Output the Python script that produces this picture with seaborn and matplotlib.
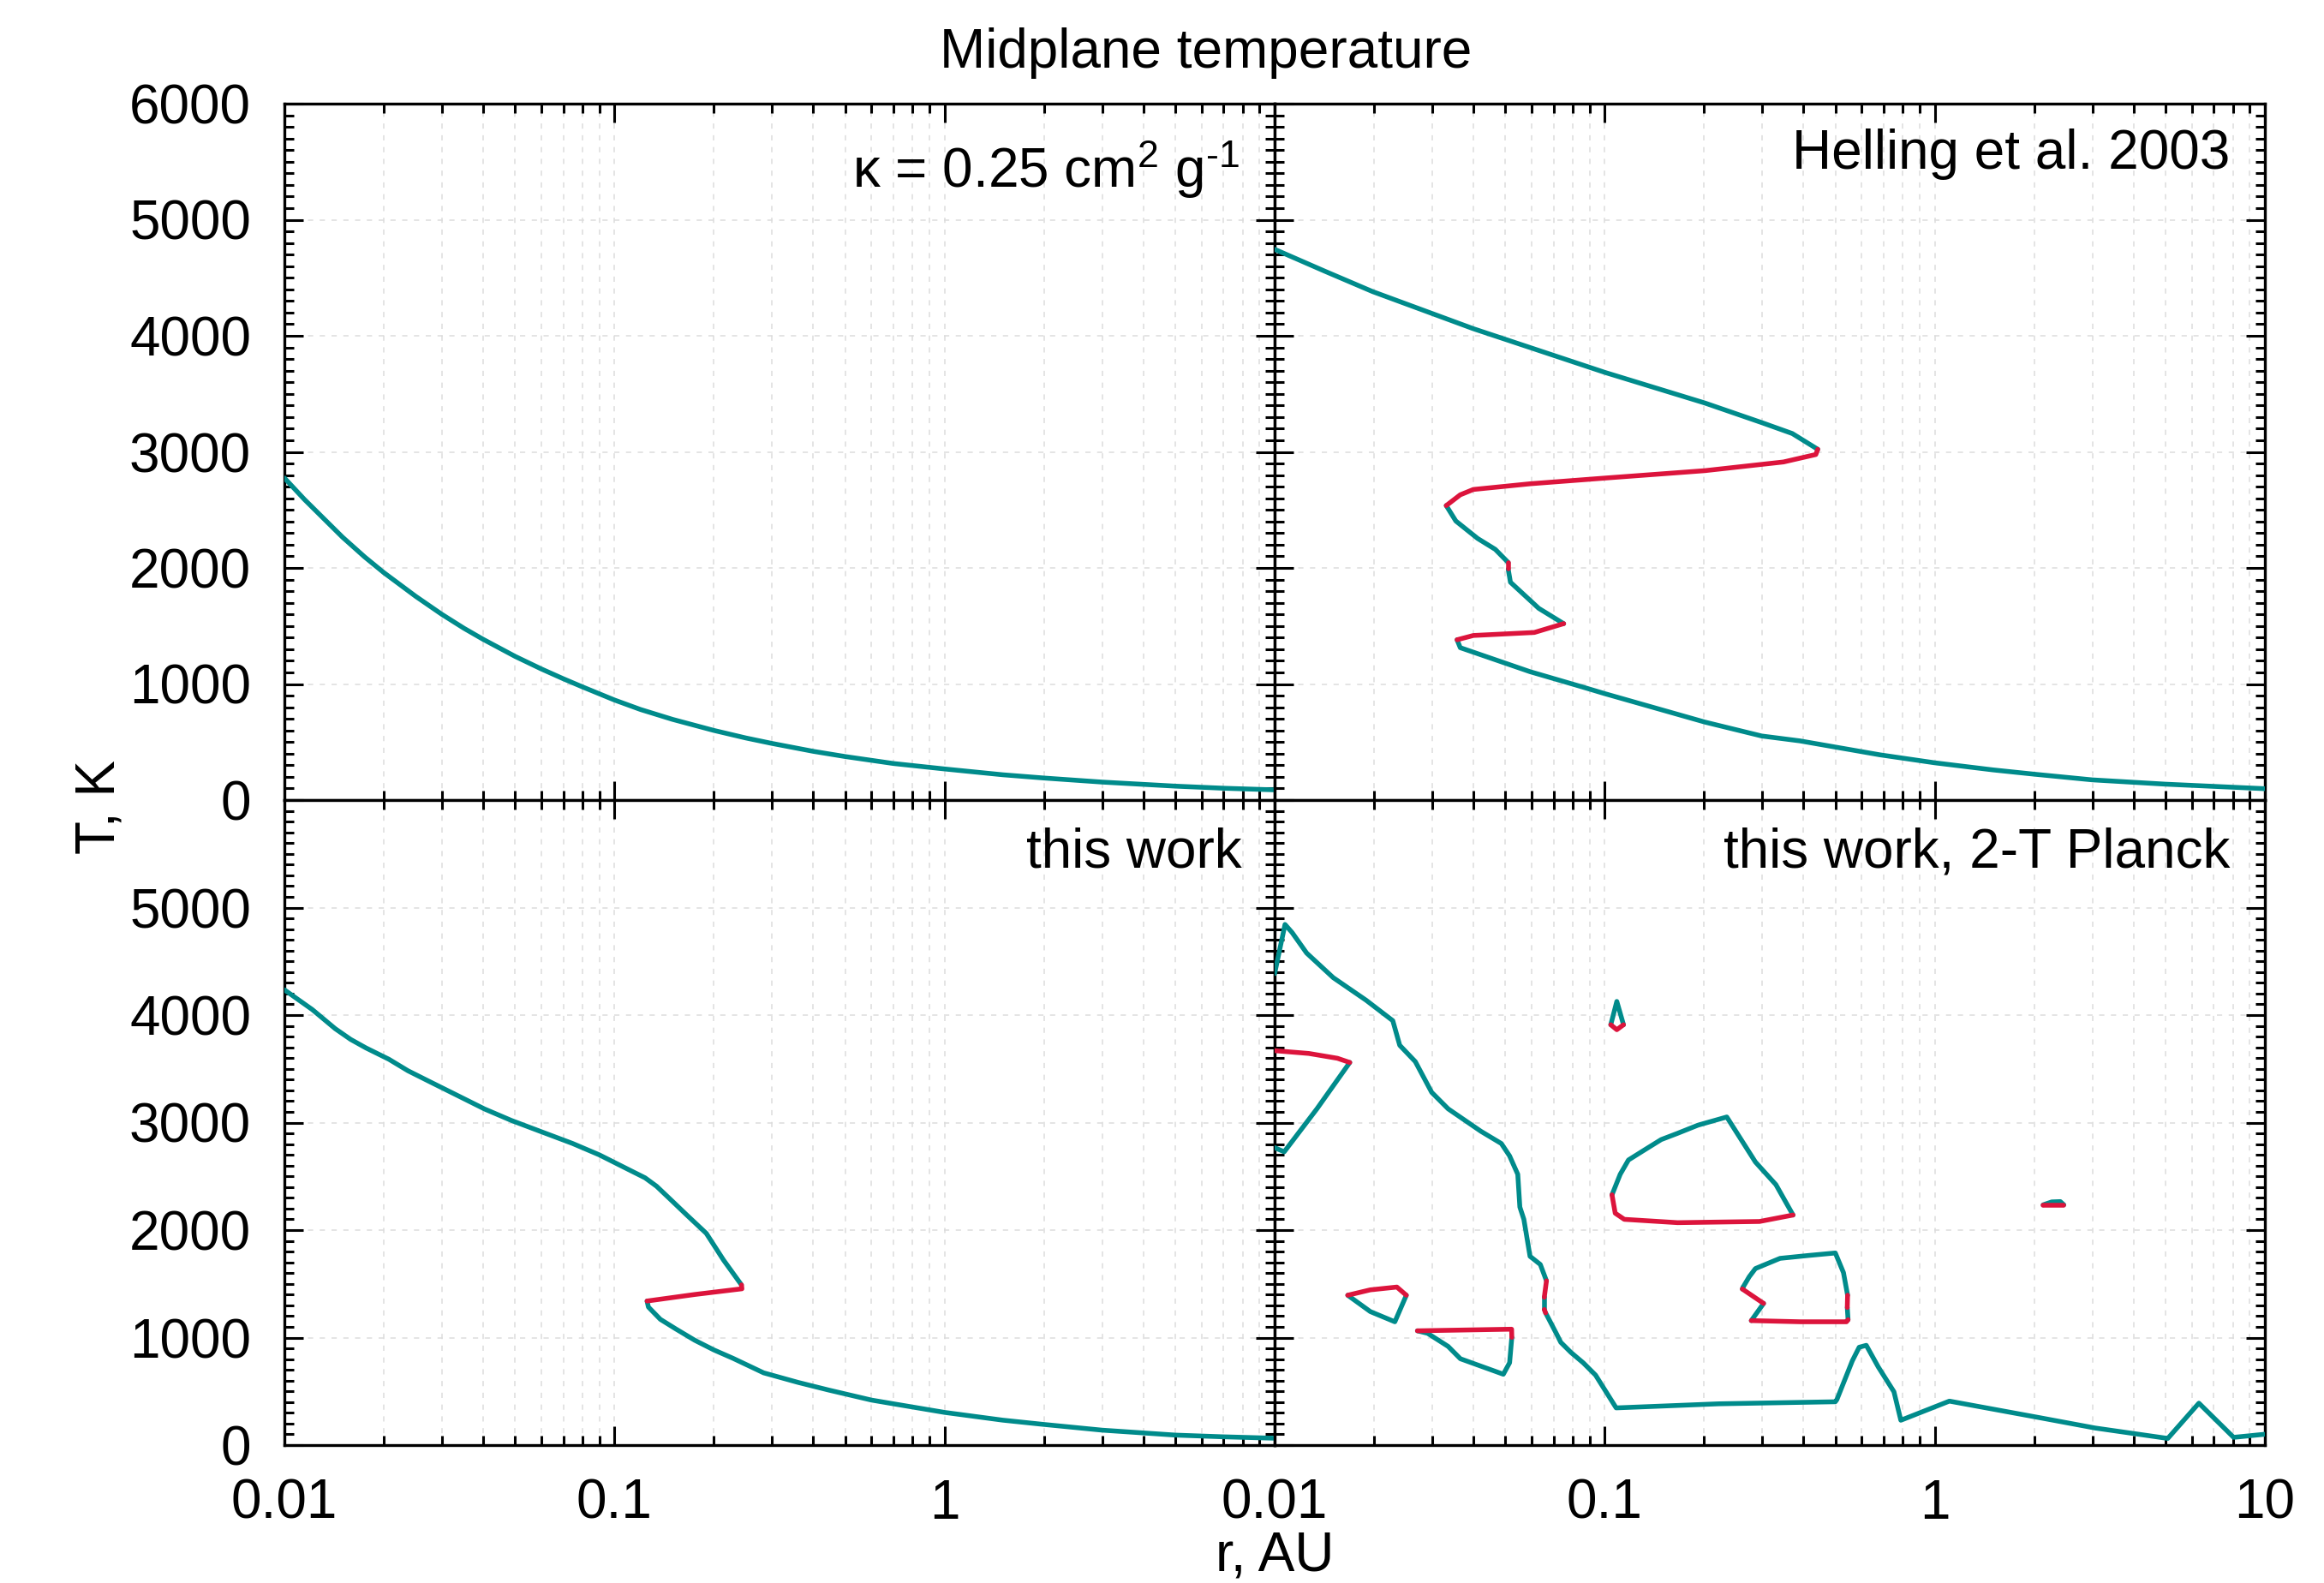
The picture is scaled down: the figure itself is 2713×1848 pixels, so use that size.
import pandas as pd
import matplotlib
matplotlib.use("Agg")
import matplotlib.pyplot as plt
from matplotlib.ticker import FixedLocator, LogLocator, NullFormatter, MultipleLocator
import seaborn as sns

# ---- data (r in AU, T in K) ----
# flags: one letter per segment, "s" = teal branch, "u" = red branch

# top left: kappa = 0.25
tl_r = [0.01, 0.0115, 0.013, 0.015, 0.0175, 0.02, 0.025, 0.03, 0.035, 0.04, 0.05, 0.06, 0.07,
        0.08, 0.1, 0.12, 0.15, 0.2, 0.25, 0.3, 0.4, 0.5, 0.7, 1, 1.5, 2, 3, 5, 7, 10]
tl_T = [2775, 2590, 2440, 2265, 2095, 1960, 1755, 1600, 1480, 1385, 1238, 1130, 1045,
        975, 862, 780, 695, 600, 535, 488, 420, 375, 315, 268, 218, 190, 155, 120, 102, 88]
tl_flags = "s" * 29

# top right: Helling et al. 2003
tr_r = [0.01, 0.01415, 0.0198, 0.04, 0.1, 0.201, 0.299, 0.37, 0.442, 0.436, 0.348, 0.201, 0.1,
        0.0594, 0.04, 0.0365, 0.0331, 0.0354, 0.0412, 0.0466, 0.051, 0.051, 0.0518, 0.0631,
        0.0751, 0.0612, 0.04, 0.0357, 0.0365, 0.0594, 0.0857, 0.1, 0.201, 0.299, 0.39,
        0.681, 1.0, 1.5, 2.0, 3.0, 5.0, 7.0, 10.0]
tr_T = [4745, 4558, 4381, 4061, 3685, 3421, 3252, 3158, 3022, 2977, 2913, 2838, 2774,
        2725, 2676, 2630, 2537, 2404, 2254, 2160, 2047, 1990, 1877, 1652,
        1520, 1444, 1418, 1381, 1313, 1106, 974, 917, 672, 552, 510,
        390, 321, 260, 223, 174, 137, 118, 98]
tr_flags = "s" * 8 + "u" * 8 + "s" * 4 + "u" + "s" * 3 + "u" * 3 + "s" * 15

# bottom left: this work
bl_r = [0.01, 0.01215, 0.01426, 0.01587, 0.01765, 0.02073, 0.02368, 0.02779, 0.0335, 0.04036,
        0.0487, 0.06025, 0.0746, 0.08992, 0.1113, 0.1238, 0.1341, 0.1492, 0.166, 0.1897, 0.214,
        0.2425, 0.2433, 0.1751, 0.1255, 0.1267, 0.1377, 0.1533, 0.1751, 0.2001, 0.2287,
        0.2831, 0.36, 0.4455, 0.6, 0.7, 1.0, 1.5, 2.0, 3.0, 5.0, 7.0, 10.0]
bl_T = [4235, 4051, 3873, 3774, 3695, 3589, 3482, 3375, 3251, 3127,
        3020, 2913, 2806, 2700, 2557, 2486, 2408, 2273, 2137, 1970, 1721,
        1490, 1454, 1401, 1340, 1284, 1170, 1081, 975, 885, 807,
        672, 583, 512, 419, 384, 304, 232, 192, 139, 93, 77, 64]
bl_flags = "s" * 21 + "u" * 3 + "s" * 18

# bottom right: this work, 2-T Planck (several separate contours)
br_main_r = [0.01, 0.01075, 0.0113, 0.0125, 0.01505, 0.01893, 0.0228, 0.02393, 0.02668, 0.02991,
             0.03354, 0.04216, 0.04862, 0.05149, 0.05452, 0.05532, 0.05689, 0.05939, 0.06381,
             0.0666, 0.0656, 0.0656, 0.0662, 0.07152, 0.07359, 0.07907, 0.0861, 0.0938, 0.1083,
             0.2212, 0.4996, 0.505, 0.5625, 0.59, 0.62, 0.674, 0.752, 0.789, 1.107, 2.077, 3.057,
             5.08, 6.31, 8.04, 10.0]
br_main_T = [4386, 4843, 4767, 4577, 4348, 4138, 3948, 3719, 3567, 3281,
             3128, 2919, 2805, 2690, 2519, 2214, 2100, 1756, 1680,
             1528, 1375, 1261, 1230, 1032, 956, 861, 765, 651, 346,
             384, 403, 423, 784, 910, 928, 727, 496, 231, 409, 255, 159,
             62, 390, 72, 101]
br_main_flags = "s" * 19 + "u" + "s" + "u" + "s" * 22

br_left_r = [0.01, 0.01269, 0.0155, 0.01689, 0.01343, 0.01069, 0.01]
br_left_T = [3669, 3643, 3598, 3559, 3128, 2728, 2767]
br_left_flags = "uuusss"

br_drop_r = [0.1043, 0.1088, 0.114, 0.1088, 0.1043]
br_drop_T = [3910, 4127, 3910, 3864, 3910]
br_drop_flags = "ssuu"

br_big_r = [0.1052, 0.1114, 0.118, 0.1322, 0.1483, 0.1662, 0.1917, 0.2343, 0.2861, 0.33, 0.372,
            0.2944, 0.1662, 0.1146, 0.1076, 0.1052]
br_big_T = [2328, 2519, 2652, 2747, 2842, 2900, 2976, 3052, 2633, 2423, 2140,
            2080, 2069, 2100, 2157, 2328]
br_big_flags = "s" * 10 + "u" * 5

br_loop_r = [0.2626, 0.274, 0.2861, 0.3397, 0.415, 0.4996, 0.5288, 0.5442, 0.543, 0.546, 0.54,
             0.3918, 0.278, 0.3029, 0.2611, 0.2626]
br_loop_T = [1470, 1566, 1642, 1737, 1764, 1787, 1604, 1394, 1280, 1166, 1147,
             1147, 1158, 1318, 1452, 1470]
br_loop_flags = "sssssss" + "u" + "s" + "uuu" + "s" + "u" + "s"

br_tri_r = [0.01665, 0.01949, 0.02346, 0.02506, 0.02313, 0.01949, 0.01665]
br_tri_T = [1394, 1444, 1470, 1394, 1147, 1242, 1394]
br_tri_flags = "uuusss"

br_wedge_r = [0.02707, 0.05223, 0.0523, 0.0515, 0.0493, 0.03654, 0.03354, 0.02906, 0.02707]
br_wedge_T = [1063, 1078, 1002, 766, 659, 803, 918, 1040, 1063]
br_wedge_flags = "uu" + "s" * 6

br_blip_r = [2.13, 2.46, 2.40, 2.26, 2.13]
br_blip_T = [2235, 2235, 2265, 2262, 2235]
br_blip_flags = "usss"

panel_labels = [r"κ = 0.25 cm$^{2}$ g$^{\text{-1}}$", "Helling et al. 2003", "this work",
                "this work, 2-T Planck"]
x_ticks = [0.01, 0.1, 1, 10]
x_ticklabels = ["0.01", "0.1", "1", "10"]
y_ticks = [0, 1000, 2000, 3000, 4000, 5000, 6000]

TEAL = "#008b8b"
RED = "#dc143c"


def branch_frame(r, T, flags, name):
    # split a contour into runs of equal branch type, sharing the joint points
    rows = []
    seg = 0
    start = 0
    for i in range(1, len(flags) + 1):
        if i == len(flags) or flags[i] != flags[start]:
            for j in range(start, i + 1):
                rows.append((r[j], T[j], f"{name}_{seg}", flags[start]))
            seg += 1
            start = i
    return pd.DataFrame(rows, columns=["r", "T", "seg", "branch"])


sns.set_theme(style="white")
plt.rcParams["font.family"] = ["Liberation Sans", "DejaVu Sans"]
plt.rcParams["mathtext.fontset"] = "custom"
plt.rcParams["mathtext.rm"] = "Liberation Sans"
plt.rcParams["mathtext.it"] = "Liberation Sans"
plt.rcParams["mathtext.default"] = "rm"
plt.rcParams["text.color"] = "black"
plt.rcParams["xtick.color"] = "black"
plt.rcParams["ytick.color"] = "black"
plt.rcParams["xtick.labelcolor"] = "black"
plt.rcParams["ytick.labelcolor"] = "black"
FS = 46

fig = plt.figure(figsize=(27.13, 18.48), dpi=100)

W, H = 2713, 1848
xl, xm, xr = 332, 1488, 2644
yt, ym, yb = 121, 934, 1687

boxes = [
    (xl, ym, xm, yt),
    (xm, ym, xr, yt),
    (xl, yb, xm, ym),
    (xm, yb, xr, ym),
]
axes = []
for (x0, y0, x1, y1) in boxes:
    ax = fig.add_axes([x0 / W, 1 - y0 / H, (x1 - x0) / W, (y0 - y1) / H])
    axes.append(ax)

panels = [
    [branch_frame(tl_r, tl_T, tl_flags, "tl")],
    [branch_frame(tr_r, tr_T, tr_flags, "tr")],
    [branch_frame(bl_r, bl_T, bl_flags, "bl")],
    [branch_frame(br_main_r, br_main_T, br_main_flags, "main"),
     branch_frame(br_left_r, br_left_T, br_left_flags, "left"),
     branch_frame(br_drop_r, br_drop_T, br_drop_flags, "drop"),
     branch_frame(br_big_r, br_big_T, br_big_flags, "big"),
     branch_frame(br_loop_r, br_loop_T, br_loop_flags, "loop"),
     branch_frame(br_tri_r, br_tri_T, br_tri_flags, "tri"),
     branch_frame(br_wedge_r, br_wedge_T, br_wedge_flags, "wedge"),
     branch_frame(br_blip_r, br_blip_T, br_blip_flags, "blip")],
]

for k, ax in enumerate(axes):
    ax.set_xscale("log")
    df = pd.concat(panels[k], ignore_index=True)
    sns.lineplot(data=df, x="r", y="T", units="seg", estimator=None, sort=False,
                 hue="branch", palette={"s": TEAL, "u": RED}, linewidth=4.0,
                 legend=False, ax=ax, zorder=3)
    ax.set_xlim(0.01, 10)
    ax.set_ylim(0, 6000)
    ax.set_xlabel("")
    ax.set_ylabel("")

    ax.xaxis.set_major_locator(FixedLocator(x_ticks))
    ax.xaxis.set_minor_locator(LogLocator(base=10, subs=range(2, 10)))
    ax.xaxis.set_minor_formatter(NullFormatter())
    ax.yaxis.set_major_locator(FixedLocator(y_ticks))
    ax.yaxis.set_minor_locator(MultipleLocator(100))

    ax.grid(which="major", axis="both", color="#dcdcdc", lw=1.1, ls=(0, (4, 5)))
    ax.grid(which="minor", axis="x", color="#dcdcdc", lw=1.1, ls=(0, (4, 5)))
    ax.set_axisbelow(True)

    ax.tick_params(which="both", direction="in", top=True, right=True,
                   bottom=True, left=True, colors="black", labelsize=FS, pad=28)
    ax.tick_params(which="major", length=16, width=2.2)
    ax.tick_params(which="minor", length=8, width=2.2)
    for sp in ax.spines.values():
        sp.set_linewidth(2.4)
        sp.set_color("black")

    ax.set_xticks(x_ticks)
    ax.set_yticks(y_ticks)
    if k == 2:
        ax.set_xticklabels(["0.01", "0.1", "1", ""])
        ax.set_yticklabels(["0", "1000", "2000", "3000", "4000", "5000", ""])
    elif k == 3:
        ax.set_xticklabels(x_ticklabels)
        ax.set_yticklabels([])
    elif k == 0:
        ax.set_xticklabels([])
        ax.set_yticklabels([str(v) for v in y_ticks])
    else:
        ax.set_xticklabels([])
        ax.set_yticklabels([])

# panel captions
axes[0].text(0.965, 0.8795, panel_labels[0], transform=axes[0].transAxes,
             ha="right", va="baseline", fontsize=FS)
axes[1].text(0.965, 0.9065, panel_labels[1], transform=axes[1].transAxes,
             ha="right", va="baseline", fontsize=FS)
axes[2].text(0.967, 0.8964, panel_labels[2], transform=axes[2].transAxes,
             ha="right", va="baseline", fontsize=FS)
axes[3].text(0.965, 0.8964, panel_labels[3], transform=axes[3].transAxes,
             ha="right", va="baseline", fontsize=FS)

fig.text(1408 / W, 1 - 62 / H, "Midplane temperature", ha="center", va="center", fontsize=FS)
fig.text(116 / W, 1 - 942 / H, "T, K", ha="center", va="center", rotation=90, fontsize=FS)
fig.text(1488 / W, 2 / H, "r, AU", ha="center", va="bottom", fontsize=FS)

fig.savefig("out.png", dpi=100)
